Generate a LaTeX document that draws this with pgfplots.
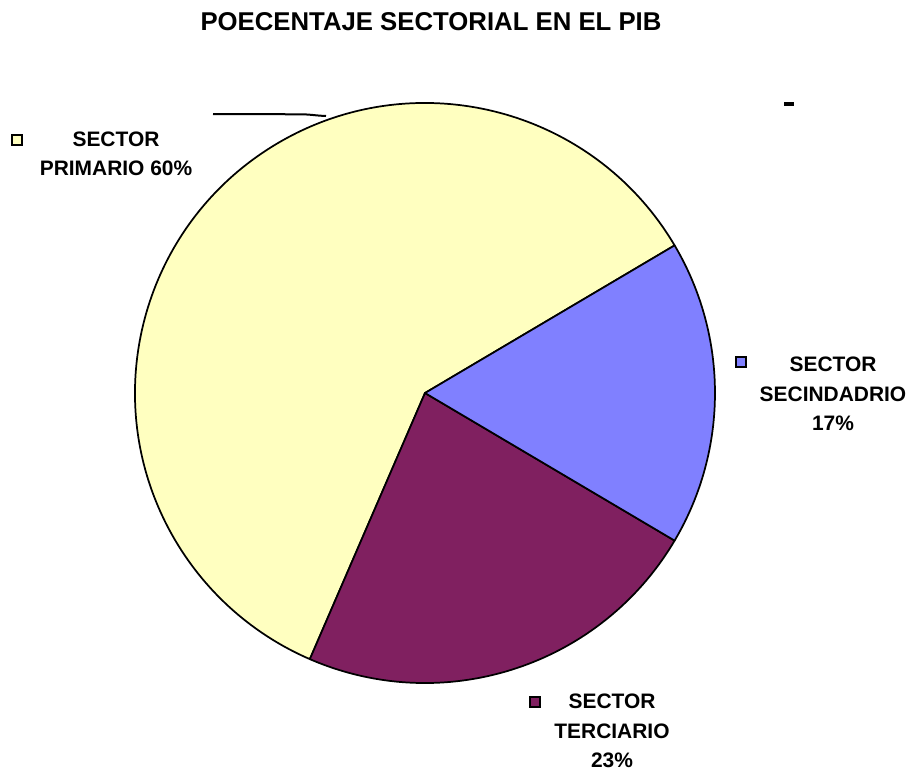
\documentclass[border=0pt]{standalone}
\usepackage{fontspec}
\setmainfont{Liberation Sans}
\usepackage{pgfplots}
\usepackage{pgfplotstable}
\pgfplotsset{compat=1.18}
\definecolor{cprim}{HTML}{FFFFC0}
\definecolor{cter}{HTML}{802060}
\definecolor{csec}{HTML}{8080FF}
\pgfplotstableread{
sector value
Primario 60
Terciario 23
Secundario 17
}\piedata
\begin{document}
\begin{tikzpicture}
\pgfplotstablegetelem{0}{value}\of\piedata \let\vA\pgfplotsretval
\pgfplotstablegetelem{1}{value}\of\piedata \let\vB\pgfplotsretval
\pgfplotstablegetelem{2}{value}\of\piedata \let\vC\pgfplotsretval
\pgfmathsetmacro{\aS}{30.6}
\pgfmathsetmacro{\aA}{\aS+3.6*\vA}
\pgfmathsetmacro{\aB}{\aA+3.6*\vB}
\pgfmathsetmacro{\aC}{\aB+3.6*\vC}
\begin{axis}[scale only axis, width=680.25pt, height=578.25pt,
  xmin=0, xmax=907, ymin=0, ymax=771, y dir=reverse, hide axis, clip=false]
\filldraw[fill=cprim, draw=black, line width=1.3pt, line join=round] (axis cs:425,393) -- ++(\aS:217.5pt) arc[start angle=\aS, end angle=\aA, radius=217.5pt] -- cycle;
\filldraw[fill=cter, draw=black, line width=1.3pt, line join=round] (axis cs:425,393) -- ++(\aA:217.5pt) arc[start angle=\aA, end angle=\aB, radius=217.5pt] -- cycle;
\filldraw[fill=csec, draw=black, line width=1.3pt, line join=round] (axis cs:425,393) -- ++(\aB:217.5pt) arc[start angle=\aB, end angle=\aC, radius=217.5pt] -- cycle;
% title
\node[font=\fontsize{19.3}{23}\selectfont\bfseries] at (axis cs:431,22) {POECENTAJE SECTORIAL EN EL PIB};
% labels
\node[font=\fontsize{15.7}{21.5}\selectfont\bfseries, align=center] at (axis cs:116,154) {SECTOR\\PRIMARIO 60\%};
\node[font=\fontsize{15.7}{22}\selectfont\bfseries, align=center] at (axis cs:833,394) {SECTOR\\SECINDADRIO\\17\%};
\node[font=\fontsize{15.7}{22}\selectfont\bfseries, align=center] at (axis cs:612,731) {SECTOR\\TERCIARIO\\23\%};
% legend keys
\filldraw[fill=cprim, draw=black, line width=1.5pt] (axis cs:12,135) rectangle (axis cs:22,145);
\filldraw[fill=csec, draw=black, line width=1.5pt] (axis cs:736,357) rectangle (axis cs:746,367);
\filldraw[fill=cter, draw=black, line width=1.5pt] (axis cs:530,697) rectangle (axis cs:540,707);
% leader line and dash
\draw[line width=1.5pt] (axis cs:213,114) -- (axis cs:300,114.3) to[out=0,in=178] (axis cs:326,116);
\draw[line width=3pt] (axis cs:784,104) -- (axis cs:794,104);
\end{axis}
\pgfresetboundingbox
\path (current axis.south west) rectangle (current axis.north east);
\end{tikzpicture}
\end{document}
